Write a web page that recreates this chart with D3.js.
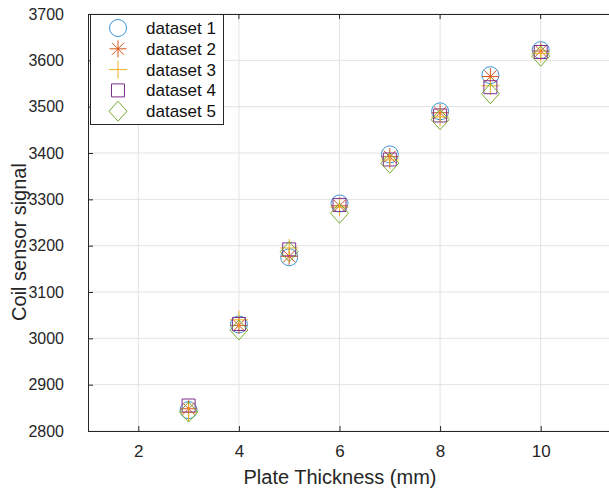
<!DOCTYPE html>
<html>
<head>
<meta charset="utf-8">
<script src="https://cdn.jsdelivr.net/npm/d3@7"></script>
<style>
  html, body { margin: 0; padding: 0; background: #fff; }
  svg { display: block; font-family: "Liberation Sans", Arial, sans-serif; }
</style>
</head>
<body>
<svg id="chart" width="609" height="493"></svg>
<script>
// Plate thickness (mm) for each measurement
const thickness = [3, 4, 5, 6, 7, 8, 9, 10];

// Coil sensor readings for each dataset
const dataset1 = [2845, 3030, 3175, 3291, 3397, 3490, 3568, 3622];
const dataset2 = [2848, 3028, 3177, 3286, 3392, 3487, 3565, 3620];
const dataset3 = [2840, 3040, 3195, 3283, 3385, 3478, 3545, 3615];
const dataset4 = [2855, 3031, 3192, 3288, 3386, 3481, 3542, 3618];
const dataset5 = [2841, 3018, 3187, 3270, 3378, 3472, 3528, 3609];

const seriesNames = ["dataset 1", "dataset 2", "dataset 3", "dataset 4", "dataset 5"];
const seriesValues = [dataset1, dataset2, dataset3, dataset4, dataset5];
const seriesColors = ["#3b94d3", "#d95319", "#edb120", "#7e2f8e", "#77ac30"];
const seriesSymbols = ["circle", "asterisk", "plus", "square", "diamond"];

const xTicks = [2, 4, 6, 8, 10];
const yTicks = [2800, 2900, 3000, 3100, 3200, 3300, 3400, 3500, 3600, 3700];

const svg = d3.select("#chart");
const plotLeft = 88, plotTop = 14, plotBottom = 431;
const pxPerUnit = 50.3;

const x = d3.scaleLinear().domain([1, 11.5]).range([plotLeft, plotLeft + 10.5 * pxPerUnit]);
const y = d3.scaleLinear().domain([2800, 3700]).range([plotBottom, plotTop]);

const axisColor = "#262626";
const gridColor = "#e3e3e3";

// grid
const grid = svg.append("g");
grid.selectAll("line.gx").data(xTicks).join("line")
  .attr("x1", d => x(d)).attr("x2", d => x(d))
  .attr("y1", plotTop).attr("y2", plotBottom)
  .attr("stroke", gridColor).attr("stroke-width", 1);
grid.selectAll("line.gy").data(yTicks).join("line")
  .attr("x1", plotLeft).attr("x2", x.range()[1])
  .attr("y1", d => y(d)).attr("y2", d => y(d))
  .attr("stroke", gridColor).attr("stroke-width", 1);

// axes with inward ticks
const xAxis = svg.append("g").attr("transform", `translate(0,${plotBottom})`)
  .call(d3.axisBottom(x).tickValues(xTicks).tickSize(-5).tickPadding(14).tickFormat(d3.format("d")));
const yAxis = svg.append("g").attr("transform", `translate(${plotLeft},0)`)
  .call(d3.axisLeft(y).tickValues(yTicks).tickSize(-5).tickPadding(24).tickFormat(d3.format("d")));
[xAxis, yAxis].forEach(a => {
  a.select(".domain").attr("stroke", axisColor).attr("stroke-width", 1);
  a.selectAll(".tick line").attr("stroke", axisColor);
  a.selectAll(".tick text").attr("fill", axisColor)
    .attr("font-family", "'Liberation Sans', Arial, sans-serif");
});
xAxis.selectAll(".tick text").attr("font-size", 17);
yAxis.selectAll(".tick text").attr("font-size", 16);

// top box edge
svg.append("line")
  .attr("x1", plotLeft).attr("x2", x.range()[1])
  .attr("y1", plotTop + 0.5).attr("y2", plotTop + 0.5)
  .attr("stroke", axisColor).attr("stroke-width", 1);
svg.append("g").selectAll("line").data(xTicks).join("line")
  .attr("x1", d => x(d)).attr("x2", d => x(d))
  .attr("y1", plotTop).attr("y2", plotTop + 5)
  .attr("stroke", axisColor);

// marker path generators (centered at 0,0)
function markerPath(sym) {
  switch (sym) {
    case "circle": { const r = 8.5; return `M${r},0A${r},${r} 0 1,1 ${-r},0A${r},${r} 0 1,1 ${r},0Z`; }
    case "asterisk": {
      const r = 8.5, p = [];
      for (let k = 0; k < 4; k++) {
        const a = k * Math.PI / 4;
        p.push(`M${-r * Math.cos(a)},${-r * Math.sin(a)}L${r * Math.cos(a)},${r * Math.sin(a)}`);
      }
      return p.join("");
    }
    case "plus": { const r = 9; return `M${-r},0L${r},0M0,${-r}L0,${r}`; }
    case "square": { const h = 6.5; return `M${-h},${-h}L${h},${-h}L${h},${h}L${-h},${h}Z`; }
    case "diamond": { const w = 9, h = 10; return `M0,${-h}L${w},0L0,${h}L${-w},0Z`; }
  }
}

// scatter markers
seriesValues.forEach((vals, i) => {
  svg.append("g").selectAll("path").data(vals).join("path")
    .attr("transform", (d, j) => `translate(${x(thickness[j])},${y(d)})`)
    .attr("d", markerPath(seriesSymbols[i]))
    .attr("fill", "none")
    .attr("stroke", seriesColors[i])
    .attr("stroke-width", 1);
});

// legend
const lg = svg.append("g").attr("transform", "translate(90,14)");
lg.append("rect").attr("x", 0.5).attr("y", 0.5).attr("width", 133).attr("height", 110)
  .attr("fill", "#fff").attr("stroke", axisColor).attr("stroke-width", 1);
seriesNames.forEach((name, i) => {
  const cy = 14 + i * 20.8;
  lg.append("path").attr("transform", `translate(28,${cy})`)
    .attr("d", markerPath(seriesSymbols[i]))
    .attr("fill", "none").attr("stroke", seriesColors[i]).attr("stroke-width", 1);
  lg.append("text").attr("x", 56).attr("y", cy).attr("dy", "0.35em")
    .attr("font-size", 17).attr("fill", "#111").text(name);
});

// axis titles
svg.append("text").attr("x", 340).attr("y", 484)
  .attr("text-anchor", "middle").attr("font-size", 20).attr("fill", axisColor)
  .text("Plate Thickness (mm)");
svg.append("text").attr("transform", "translate(19,242) rotate(-90)")
  .attr("text-anchor", "middle").attr("dy", "0.35em").attr("font-size", 20).attr("fill", axisColor)
  .text("Coil sensor signal");
</script>
</body>
</html>
